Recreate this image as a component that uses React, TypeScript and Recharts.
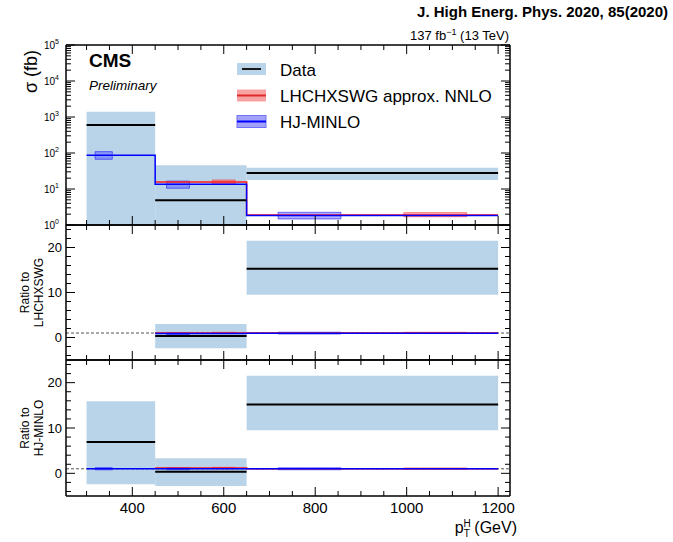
import React from 'react';
import { ComposedChart, Line, XAxis, YAxis, ReferenceArea, ReferenceLine } from 'recharts';

const FONT = '"Liberation Sans", Arial, Helvetica, sans-serif';
const W = 673;
const H = 542;
const PLOT_LEFT = 66;
const PLOT_RIGHT = 510;
const X_DOMAIN: [number, number] = [255, 1226];

// pT^H bins (GeV)
const binEdges = [300, 450, 650, 1200];

const seriesNames = ['Data', 'LHCHXSWG approx. NNLO', 'HJ-MINLO'];

// cross sections (fb); null = no prediction in that bin
const dataXsec = [600, 4.9, 28];
const dataXsecLo = [-200, -36, 17.8];
const dataXsecHi = [1400, 46, 39];
const nnloXsec = [null, 15.6, 1.9];
const nnloXsecLo = [null, 13.8, 1.7];
const nnloXsecHi = [null, 17.8, 2.2];
const hjXsec = [87, 13.5, 1.85];
const hjXsecLo = [67, 10.5, 1.47];
const hjXsecHi = [109, 16.6, 2.25];

// ratio to LHCHXSWG
const dataRatioNnlo = [null, 0.35, 15.3];
const dataRatioNnloLo = [null, -2.4, 9.5];
const dataRatioNnloHi = [null, 3.0, 21.5];
const nnloRatioNnlo = [null, 1, 1];
const nnloRatioNnloLo = [null, 0.88, 0.9];
const nnloRatioNnloHi = [null, 1.14, 1.16];
const hjRatioNnlo = [null, 0.87, 0.97];
const hjRatioNnloLo = [null, 0.67, 0.77];
const hjRatioNnloHi = [null, 1.06, 1.18];

// ratio to HJ-MINLO
const dataRatioHj = [6.9, 0.35, 15.2];
const dataRatioHjLo = [-2.4, -2.8, 9.5];
const dataRatioHjHi = [15.9, 3.3, 21.5];
const nnloRatioHj = [null, 1.15, 1.03];
const nnloRatioHjLo = [null, 1.02, 0.92];
const nnloRatioHjHi = [null, 1.32, 1.19];
const hjRatioHj = [1, 1, 1];
const hjRatioHjLo = [0.77, 0.78, 0.79];
const hjRatioHjHi = [1.25, 1.23, 1.22];

// theory boxes sit inside each bin at these fractions
const hjBoxFrac = [0.125, 0.375];
const nnloBoxFrac = [0.625, 0.875];

// ticks
const xTicks = [300, 350, 400, 450, 500, 550, 600, 650, 700, 750, 800, 850, 900, 950, 1000, 1050, 1100, 1150, 1200];
const xLabelTicks = [400, 600, 800, 1000, 1200];
const logDecades = [1, 10, 100, 1000, 10000, 100000];
const logExponents = ['0', '1', '2', '3', '4', '5'];
const logMinor = [2, 3, 4, 5, 6, 7, 8, 9];
const logTicks = logDecades.flatMap((d, i) => (i < logDecades.length - 1 ? [d, ...logMinor.map((m) => m * d)] : [d]));
const ratioTicks = [-4, -2, 0, 2, 4, 6, 8, 10, 12, 14, 16, 18, 20, 22, 24];
const ratioLabelTicks = [0, 10, 20];

const BAND = '#b9d4e8';
const HJ = '#0000ff';
const HJ_FILL = '#4b4bff';
const NNLO = '#ff1a1a';
const NNLO_FILL = '#ff4d4d';

type Vals = (number | null)[];
type Band = { v: Vals; lo: Vals; hi: Vals };
type Side = 'bottom' | 'top' | 'left' | 'right';

const makeTick =
  (side: Side, isMajor: (v: number) => boolean, label?: (v: number, x: number, y: number) => React.ReactNode) =>
  (props: any) => {
    const { x, y, payload } = props;
    const v = payload.value;
    const len = isMajor(v) ? 9 : 5;
    let x2 = x;
    let y2 = y;
    if (side === 'bottom') y2 = y - len;
    else if (side === 'top') y2 = y + len;
    else if (side === 'left') x2 = x + len;
    else x2 = x - len;
    return (
      <g>
        <line x1={x} y1={y} x2={x2} y2={y2} stroke="#000" strokeWidth={1} />
        {label ? label(v, x, y) : null}
      </g>
    );
  };

const xMajor = (v: number) => xLabelTicks.includes(v);
const xLabel = (v: number, x: number, y: number) =>
  xLabelTicks.includes(v) ? (
    <text x={x} y={y + 17} textAnchor="middle" fontSize={15} fontFamily={FONT} fill="#000">
      {v}
    </text>
  ) : null;

const logMajor = (v: number) => logDecades.includes(v);
const logLabel = (v: number, x: number, y: number) => {
  const i = logDecades.indexOf(v);
  if (i < 0) return null;
  return (
    <text x={x - 7} y={y + 4} textAnchor="end" fontSize={10} fontFamily={FONT} fill="#000">
      10
      <tspan dy={-5} fontSize={7}>
        {logExponents[i]}
      </tspan>
    </text>
  );
};

const ratioMajor = (v: number) => ratioLabelTicks.includes(v);
const ratioLabel = (v: number, x: number, y: number) =>
  ratioLabelTicks.includes(v) ? (
    <text x={x - 4} y={y + 4.5} textAnchor="end" fontSize={13} fontFamily={FONT} fill="#000">
      {v}
    </text>
  ) : null;

const stepData = (vals: Vals) => binEdges.map((x, i) => ({ x, y: vals[Math.min(i, vals.length - 1)] }));

interface PanelProps {
  top: number;
  bottom: number;
  log?: boolean;
  domain: [number, number];
  ticks: number[];
  data: Band;
  nnlo: Band;
  hj: Band;
  refLine?: number;
  xLabels?: boolean;
}

const Panel = ({ top, bottom, log, domain, ticks, data, nnlo, hj, refLine, xLabels }: PanelProps) => {
  const major = log ? logMajor : ratioMajor;
  const yLabel = log ? logLabel : ratioLabel;
  // negative lower edges can't go on a log axis: push them below the frame, they get clipped
  const clampLo = (v: number) => (log ? Math.max(v, domain[0] / 3) : v);
  const axisLine = { stroke: '#000', strokeWidth: 1.5 };

  const boxes = (b: Band, frac: number[], fill: string, stroke: string) =>
    b.v.map((v, i) => {
      if (v == null || b.lo[i] == null || b.hi[i] == null) return null;
      const w = binEdges[i + 1] - binEdges[i];
      return (
        <ReferenceArea
          key={`${fill}-${i}`}
          x1={binEdges[i] + w * frac[0]}
          x2={binEdges[i] + w * frac[1]}
          y1={b.lo[i] as number}
          y2={b.hi[i] as number}
          fill={fill}
          fillOpacity={0.45}
          stroke={stroke}
          strokeOpacity={0.5}
          ifOverflow="hidden"
        />
      );
    });

  // axes get a 1px band (a 0px axis is not drawn), so the margins give that pixel back
  return (
    <div style={{ position: 'absolute', left: 0, top: 0 }}>
      <ComposedChart
        width={W}
        height={H}
        margin={{ top: top - 1, bottom: H - bottom - 1, left: PLOT_LEFT - 1, right: W - PLOT_RIGHT - 1 }}
      >
        <XAxis
          dataKey="x"
          type="number"
          domain={X_DOMAIN}
          allowDataOverflow
          ticks={xTicks}
          interval={0}
          height={1}
          tickSize={0}
          tickMargin={0}
          tickLine={false}
          axisLine={axisLine}
          tick={makeTick('bottom', xMajor, xLabels ? xLabel : undefined)}
        />
        <XAxis
          xAxisId="top"
          orientation="top"
          dataKey="x"
          type="number"
          domain={X_DOMAIN}
          allowDataOverflow
          ticks={xTicks}
          interval={0}
          height={1}
          tickSize={0}
          tickMargin={0}
          tickLine={false}
          axisLine={axisLine}
          tick={makeTick('top', xMajor)}
        />
        <YAxis
          type="number"
          scale={log ? 'log' : 'linear'}
          domain={domain}
          allowDataOverflow
          ticks={ticks}
          interval={0}
          width={1}
          tickSize={0}
          tickMargin={0}
          tickLine={false}
          axisLine={axisLine}
          tick={makeTick('left', major, yLabel)}
        />
        <YAxis
          yAxisId="right"
          orientation="right"
          type="number"
          scale={log ? 'log' : 'linear'}
          domain={domain}
          allowDataOverflow
          ticks={ticks}
          interval={0}
          width={1}
          tickSize={0}
          tickMargin={0}
          tickLine={false}
          axisLine={axisLine}
          tick={makeTick('right', major)}
        />

        {data.v.map((v, i) =>
          v == null ? null : (
            <ReferenceArea
              key={`band-${i}`}
              x1={binEdges[i]}
              x2={binEdges[i + 1]}
              y1={clampLo(data.lo[i] as number)}
              y2={data.hi[i] as number}
              fill={BAND}
              fillOpacity={1}
              stroke="none"
              ifOverflow="hidden"
            />
          )
        )}

        {refLine != null && (
          <ReferenceLine y={refLine} stroke="#555" strokeWidth={1} strokeDasharray="3 2" />
        )}

        {boxes(nnlo, nnloBoxFrac, NNLO_FILL, NNLO)}
        {boxes(hj, hjBoxFrac, HJ_FILL, HJ)}

        <Line
          data={stepData(nnlo.v)}
          dataKey="y"
          type="stepAfter"
          stroke={NNLO}
          strokeWidth={1.5}
          dot={false}
          activeDot={false}
          isAnimationActive={false}
        />
        <Line
          data={stepData(hj.v)}
          dataKey="y"
          type="stepAfter"
          stroke={HJ}
          strokeWidth={1.5}
          dot={false}
          activeDot={false}
          isAnimationActive={false}
        />

        {data.v.map((v, i) =>
          v == null ? null : (
            <Line
              key={`data-${i}`}
              data={[
                { x: binEdges[i], y: v },
                { x: binEdges[i + 1], y: v },
              ]}
              dataKey="y"
              stroke="#000"
              strokeWidth={2}
              dot={false}
              activeDot={false}
              isAnimationActive={false}
            />
          )
        )}
      </ComposedChart>
    </div>
  );
};

const legendRows = [
  { name: seriesNames[0], cy: 69, fill: BAND, edge: 'none', line: '#1a1a1a', inset: 5 },
  { name: seriesNames[1], cy: 95.5, fill: '#f7a3a3', edge: 'none', line: '#e02a2a', inset: 0 },
  { name: seriesNames[2], cy: 121.5, fill: '#a2a2fb', edge: '#7070f5', line: HJ, inset: 0 },
];

const Overlay = () => (
  <svg
    width={W}
    height={H}
    style={{ position: 'absolute', left: 0, top: 0, pointerEvents: 'none' }}
    fontFamily={FONT}
  >
    <text x={668} y={17} textAnchor="end" fontWeight="bold" fontSize={15}>
      J. High Energ. Phys. 2020, 85(2020)
    </text>
    <text x={509} y={40} textAnchor="end" fontSize={13}>
      137 fb
      <tspan dy={-5} fontSize={9}>
        −1
      </tspan>
      <tspan dy={5}> (13 TeV)</tspan>
    </text>
    <text x={89} y={67} fontWeight="bold" fontSize={19}>
      CMS
    </text>
    <text x={89} y={90} fontStyle="italic" fontSize={13.5}>
      Preliminary
    </text>

    {legendRows.map((r) => (
      <g key={r.name}>
        <rect x={237} y={r.cy - 6} width={29} height={12} fill={r.fill} stroke={r.edge} />
        <line x1={237 + r.inset} x2={266 - r.inset} y1={r.cy} y2={r.cy} stroke={r.line} strokeWidth={2} />
        <text x={280} y={r.cy + 6.5} fontSize={17}>
          {r.name}
        </text>
      </g>
    ))}

    <text transform="translate(37,71.5) rotate(-90)" textAnchor="middle" fontSize={18}>
      σ (fb)
    </text>
    <text transform="translate(29,292.5) rotate(-90)" textAnchor="middle" fontSize={12}>
      Ratio to
    </text>
    <text transform="translate(42.5,292.5) rotate(-90)" textAnchor="middle" fontSize={12}>
      LHCHXSWG
    </text>
    <text transform="translate(29,428) rotate(-90)" textAnchor="middle" fontSize={12}>
      Ratio to
    </text>
    <text transform="translate(42.5,428) rotate(-90)" textAnchor="middle" fontSize={12}>
      HJ-MINLO
    </text>

    <text x={517} y={533} textAnchor="end" fontSize={16}>
      p
      <tspan dy={-6} fontSize={10}>
        H
      </tspan>
      <tspan dx={-7} dy={10} fontSize={10}>
        T
      </tspan>
      <tspan dy={-4}> (GeV)</tspan>
    </text>
  </svg>
);

const App = () => (
  <div style={{ position: 'absolute', left: 0, top: 0, width: W, height: H, background: '#fff', fontFamily: FONT }}>
    <Panel
      top={45}
      bottom={225}
      log
      domain={[1, 100000]}
      ticks={logTicks}
      data={{ v: dataXsec, lo: dataXsecLo, hi: dataXsecHi }}
      nnlo={{ v: nnloXsec, lo: nnloXsecLo, hi: nnloXsecHi }}
      hj={{ v: hjXsec, lo: hjXsecLo, hi: hjXsecHi }}
    />
    <Panel
      top={225}
      bottom={360}
      domain={[-5, 25]}
      ticks={ratioTicks}
      data={{ v: dataRatioNnlo, lo: dataRatioNnloLo, hi: dataRatioNnloHi }}
      nnlo={{ v: nnloRatioNnlo, lo: nnloRatioNnloLo, hi: nnloRatioNnloHi }}
      hj={{ v: hjRatioNnlo, lo: hjRatioNnloLo, hi: hjRatioNnloHi }}
      refLine={1}
    />
    <Panel
      top={360}
      bottom={496}
      domain={[-5, 25]}
      ticks={ratioTicks}
      data={{ v: dataRatioHj, lo: dataRatioHjLo, hi: dataRatioHjHi }}
      nnlo={{ v: nnloRatioHj, lo: nnloRatioHjLo, hi: nnloRatioHjHi }}
      hj={{ v: hjRatioHj, lo: hjRatioHjLo, hi: hjRatioHjHi }}
      refLine={1}
      xLabels
    />
    <Overlay />
  </div>
);

export default App;
